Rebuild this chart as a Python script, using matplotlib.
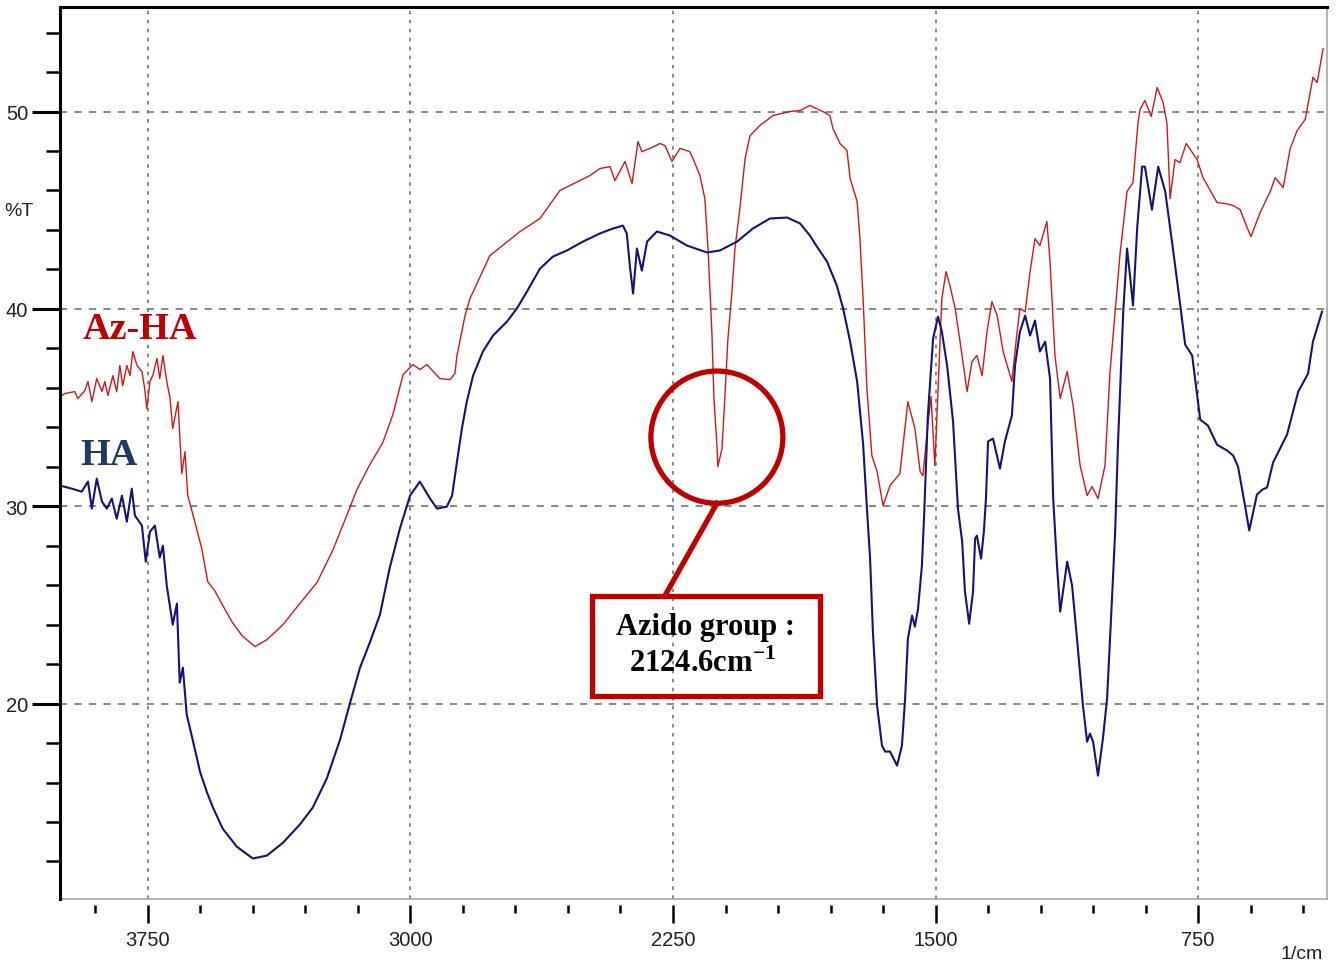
import matplotlib
matplotlib.use("Agg")
import matplotlib.pyplot as plt
from matplotlib.patches import Ellipse, Rectangle
from matplotlib.lines import Line2D
from matplotlib.ticker import FixedLocator

plt.rcParams["font.family"] = ["Liberation Sans", "DejaVu Sans"]
plt.rcParams["mathtext.fontset"] = "custom"
plt.rcParams["mathtext.rm"] = "Liberation Serif"
plt.rcParams["mathtext.bf"] = "Liberation Serif:bold"

# -------------------------------
# Spectra (wavenumber 1/cm, %T)
# -------------------------------
az_ha_wn = [4001, 3987, 3959, 3950, 3930, 3921, 3910, 3896, 3881, 3873, 3864, 3850,
            3839, 3830, 3822, 3810, 3801, 3793, 3781, 3767, 3759, 3753, 3744, 3736,
            3724, 3716, 3707, 3696, 3687, 3679, 3664, 3653, 3644, 3636, 3616, 3596,
            3579, 3559, 3539, 3510, 3481, 3444, 3410, 3364, 3316, 3267, 3221, 3173,
            3153, 3116, 3079, 3050, 3021, 2993, 2973, 2953, 2916, 2887, 2873, 2867,
            2844, 2830, 2773, 2687, 2630, 2573, 2487, 2459, 2430, 2416, 2387, 2367,
            2350, 2339, 2316, 2287, 2273, 2253, 2230, 2202, 2193, 2173, 2159, 2150,
            2139, 2133, 2124, 2122, 2110, 2102, 2093, 2082, 2073, 2059, 2044, 2030,
            2002, 1964, 1916, 1887, 1859, 1822, 1802, 1793, 1773, 1753, 1744, 1724,
            1716, 1707, 1696, 1682, 1667, 1650, 1630, 1602, 1579, 1559, 1544, 1536,
            1524, 1513, 1502, 1493, 1482, 1470, 1459, 1444, 1430, 1410, 1396, 1382,
            1367, 1353, 1339, 1324, 1307, 1282, 1267, 1259, 1244, 1230, 1216, 1202,
            1182, 1173, 1159, 1144, 1124, 1107, 1087, 1067, 1053, 1036, 1016, 1002,
            973, 953, 936, 922, 916, 902, 884, 867, 850, 839, 830, 816, 802, 784,
            753, 736, 696, 673, 650, 630, 610, 599, 573, 544, 530, 507, 487, 467,
            444, 422, 410, 393]
az_ha_t = [35.56, 35.71, 35.81, 35.46, 35.86, 36.32, 35.30, 36.47, 35.81, 36.32, 35.61, 36.62,
           35.81, 37.13, 36.11, 37.13, 36.62, 37.84, 37.13, 36.83, 35.96, 34.95, 36.32, 36.62,
           37.49, 36.47, 37.64, 36.32, 35.51, 33.94, 35.30, 31.65, 32.77, 30.54, 29.22, 27.85,
           26.18, 25.72, 25.07, 24.15, 23.44, 22.89, 23.24, 24.00, 25.07, 26.13, 27.80, 29.93,
           30.84, 32.11, 33.22, 34.65, 36.67, 37.18, 36.93, 37.18, 36.47, 36.42, 36.72, 37.64,
           39.66, 40.52, 42.70, 43.92, 44.58, 46.00, 46.76, 47.11, 47.21, 46.50, 47.47, 46.35,
           48.48, 47.97, 48.13, 48.38, 48.28, 47.47, 48.13, 47.97, 47.62, 46.76, 45.59, 43.06,
           38.85, 35.46, 32.92, 32.01, 32.92, 35.46, 38.50, 40.78, 43.06, 45.08, 47.62, 48.78,
           49.29, 49.80, 50.00, 50.05, 50.31, 50.00, 49.80, 49.14, 48.38, 48.02, 46.60, 45.44,
           43.56, 40.52, 35.96, 32.57, 31.76, 30.03, 31.05, 31.65, 35.30, 33.94, 31.76, 31.55,
           33.78, 35.56, 32.06, 35.81, 40.52, 41.89, 41.18, 40.02, 38.34, 35.81, 37.33, 37.64,
           36.62, 38.85, 40.37, 39.66, 37.84, 36.32, 38.85, 40.02, 39.86, 41.89, 43.56, 43.21,
           44.43, 42.40, 37.64, 35.46, 36.83, 35.10, 32.06, 30.54, 31.00, 30.39, 32.06, 36.72,
           42.80, 45.95, 46.40, 49.39, 50.10, 50.56, 49.75, 51.22, 50.46, 49.39, 45.59, 47.57,
           47.41, 48.38, 47.57, 46.65, 45.39, 45.34, 45.24, 45.03, 44.12, 43.66, 44.88, 45.95,
           46.65, 46.15, 48.13, 49.04, 49.60, 51.73, 51.47, 53.19]

ha_wn = [4001, 3967, 3939, 3921, 3910, 3896, 3881, 3867, 3853, 3839, 3824, 3810,
         3796, 3787, 3767, 3756, 3744, 3730, 3716, 3707, 3696, 3679, 3667, 3659,
         3650, 3639, 3622, 3601, 3581, 3564, 3536, 3496, 3450, 3410, 3364, 3316,
         3279, 3239, 3201, 3173, 3144, 3116, 3087, 3059, 3030, 3001, 2973, 2944,
         2924, 2896, 2881, 2867, 2853, 2839, 2821, 2793, 2764, 2724, 2696, 2667,
         2630, 2593, 2553, 2507, 2459, 2422, 2393, 2382, 2373, 2364, 2353, 2339,
         2324, 2296, 2259, 2210, 2153, 2116, 2067, 2022, 1973, 1924, 1887, 1859,
         1839, 1810, 1782, 1764, 1744, 1724, 1707, 1696, 1687, 1679, 1667, 1653,
         1644, 1630, 1610, 1596, 1587, 1579, 1567, 1559, 1550, 1539, 1533, 1522,
         1507, 1493, 1482, 1467, 1450, 1436, 1424, 1416, 1404, 1393, 1387, 1382,
         1370, 1362, 1356, 1350, 1336, 1316, 1302, 1282, 1273, 1259, 1244, 1230,
         1216, 1202, 1187, 1173, 1164, 1153, 1144, 1124, 1110, 1096, 1079, 1067,
         1059, 1050, 1036, 1022, 1010, 996, 987, 979, 964, 953, 944, 936,
         924, 910, 902, 882, 864, 844, 822, 802, 787, 767, 744, 722,
         696, 667, 650, 636, 616, 604, 582, 567, 553, 536, 496, 464,
         436, 422, 396]
ha_t = [31.05, 30.89, 30.74, 31.25, 29.88, 31.40, 30.23, 29.88, 30.39, 29.37, 30.54, 29.22,
        30.89, 29.53, 29.02, 27.19, 28.71, 29.02, 27.40, 28.00, 25.98, 24.00, 25.07, 21.06,
        21.82, 19.44, 18.17, 16.55, 15.49, 14.73, 13.66, 12.75, 12.15, 12.30, 12.95, 13.87,
        14.73, 16.20, 18.17, 20.00, 21.82, 23.09, 24.51, 26.89, 28.87, 30.54, 31.25, 30.39,
        29.88, 29.98, 30.54, 32.26, 33.94, 35.30, 36.62, 37.84, 38.65, 39.36, 40.02, 40.88,
        42.04, 42.65, 42.96, 43.41, 43.82, 44.07, 44.22, 43.82, 42.15, 40.78, 43.06, 41.94,
        43.41, 43.92, 43.72, 43.21, 42.86, 42.96, 43.41, 44.07, 44.58, 44.63, 44.33, 43.72,
        43.16, 42.40, 41.18, 40.02, 38.34, 36.32, 33.17, 29.88, 27.35, 23.65, 19.90, 17.87,
        17.57, 17.57, 16.86, 17.87, 20.25, 23.29, 24.46, 23.90, 24.81, 26.99, 29.37, 34.59,
        38.50, 39.61, 38.85, 37.13, 34.29, 29.88, 28.21, 25.67, 24.05, 25.67, 28.36, 28.51,
        27.35, 28.71, 30.39, 33.28, 33.43, 31.91, 33.28, 34.59, 37.13, 38.85, 39.66, 38.65,
        39.41, 37.84, 38.34, 36.47, 30.39, 26.99, 24.66, 27.19, 25.98, 23.29, 19.90, 18.07,
        18.48, 18.07, 16.35, 18.22, 20.25, 25.32, 28.71, 33.12, 39.81, 43.06, 41.59, 40.17,
        44.12, 47.21, 47.21, 45.03, 47.21, 45.95, 43.06, 40.32, 38.19, 37.64, 34.39, 34.09,
        33.12, 32.82, 32.57, 32.01, 30.03, 28.77, 30.59, 30.84, 30.95, 32.21, 33.63, 35.81,
        36.72, 38.34, 39.86]

x_major = [3750, 3000, 2250, 1500, 750]
y_major = [20, 30, 40, 50]

azido_wn = 2124.6
azido_t = 33.5

# -------------------------------
# Figure
# -------------------------------
fig = plt.figure(figsize=(13.39, 9.70), dpi=100)
ax = fig.add_axes([0.0448, 0.0722, 0.9462, 0.9196])

ax.plot(az_ha_wn, az_ha_t, color="#d01818", lw=1.0)
ax.plot(ha_wn, ha_t, color="#141478", lw=1.5)

ax.set_xlim(4001, 382)
ax.set_ylim(10.1, 55.3)

ax.xaxis.set_major_locator(FixedLocator(x_major))
ax.xaxis.set_minor_locator(FixedLocator([v for v in range(450, 4000, 150) if v not in x_major]))
ax.yaxis.set_major_locator(FixedLocator(y_major))
ax.yaxis.set_minor_locator(FixedLocator([v for v in range(12, 56, 2) if v not in y_major]))

ax.tick_params(axis="x", which="major", direction="out", length=13, width=1.8, pad=5,
               labelsize=14.5, labelcolor="#202020")
ax.tick_params(axis="x", which="minor", direction="out", length=6, width=1.8)
ax.tick_params(axis="y", which="major", direction="out", length=20, width=2.2, pad=3,
               labelsize=14.5, labelcolor="#202020")
ax.tick_params(axis="y", which="minor", direction="out", length=10, width=1.8)

ax.grid(True, axis="y", which="major", color="#7f7f7f", lw=1.3, linestyle=(0, (4, 4)))
ax.grid(True, axis="x", which="major", color="#7f7f7f", lw=1.3, linestyle=(0, (2, 3)))

ax.spines["left"].set_linewidth(2.2)
ax.spines["left"].set_color("black")
ax.spines["top"].set_linewidth(2.2)
ax.spines["top"].set_color("black")
ax.spines["right"].set_linewidth(1.1)
ax.spines["right"].set_color("#a0a0a0")
ax.spines["bottom"].set_position(("outward", 4))
ax.spines["bottom"].set_visible(False)
ax.add_line(Line2D([0, 1], [0, 0], transform=ax.transAxes, color="#a0a0a0", lw=1.1, clip_on=False))

# labels of the traces
ax.text(3936, 39.0, "Az-HA", color="#c00000", fontsize=27.5, fontweight="bold",
        family=["Liberation Serif", "DejaVu Serif"], ha="left", va="center")
ax.text(3944, 32.6, "HA", color="#203864", fontsize=27.5, fontweight="bold",
        family=["Liberation Serif", "DejaVu Serif"], ha="left", va="center")

# azido peak highlight
ax.add_patch(Ellipse((azido_wn, azido_t), 377, 6.7, fill=False, ec="#c00000", lw=3.8, zorder=5))
ax.add_line(Line2D([azido_wn, 2273], [azido_t - 3.35, 25.47], color="#c00000", lw=3.8, zorder=5))
ax.add_patch(Rectangle((2481, 20.4), -651, 5.07, fill=False, ec="#c00000", lw=3.8, zorder=5))
fig.text(706 / 1339, 1 - 628 / 970, "Azido group :", fontsize=22, fontweight="bold",
         family=["Liberation Serif", "DejaVu Serif"], ha="center", va="center")
fig.text(702 / 1339, 1 - 664 / 970, r"2124.6cm$^{\mathbf{-1}}$", fontsize=22, fontweight="bold",
         family=["Liberation Serif", "DejaVu Serif"], ha="center", va="center")

fig.text(19 / 1339, 1 - 212 / 970, "%T", fontsize=14, color="#202020", ha="center", va="center")
fig.text(1302 / 1339, 1 - 955 / 970, "1/cm", fontsize=14, color="#202020", ha="center", va="center")

fig.savefig("out.png", dpi=100, facecolor="white")
